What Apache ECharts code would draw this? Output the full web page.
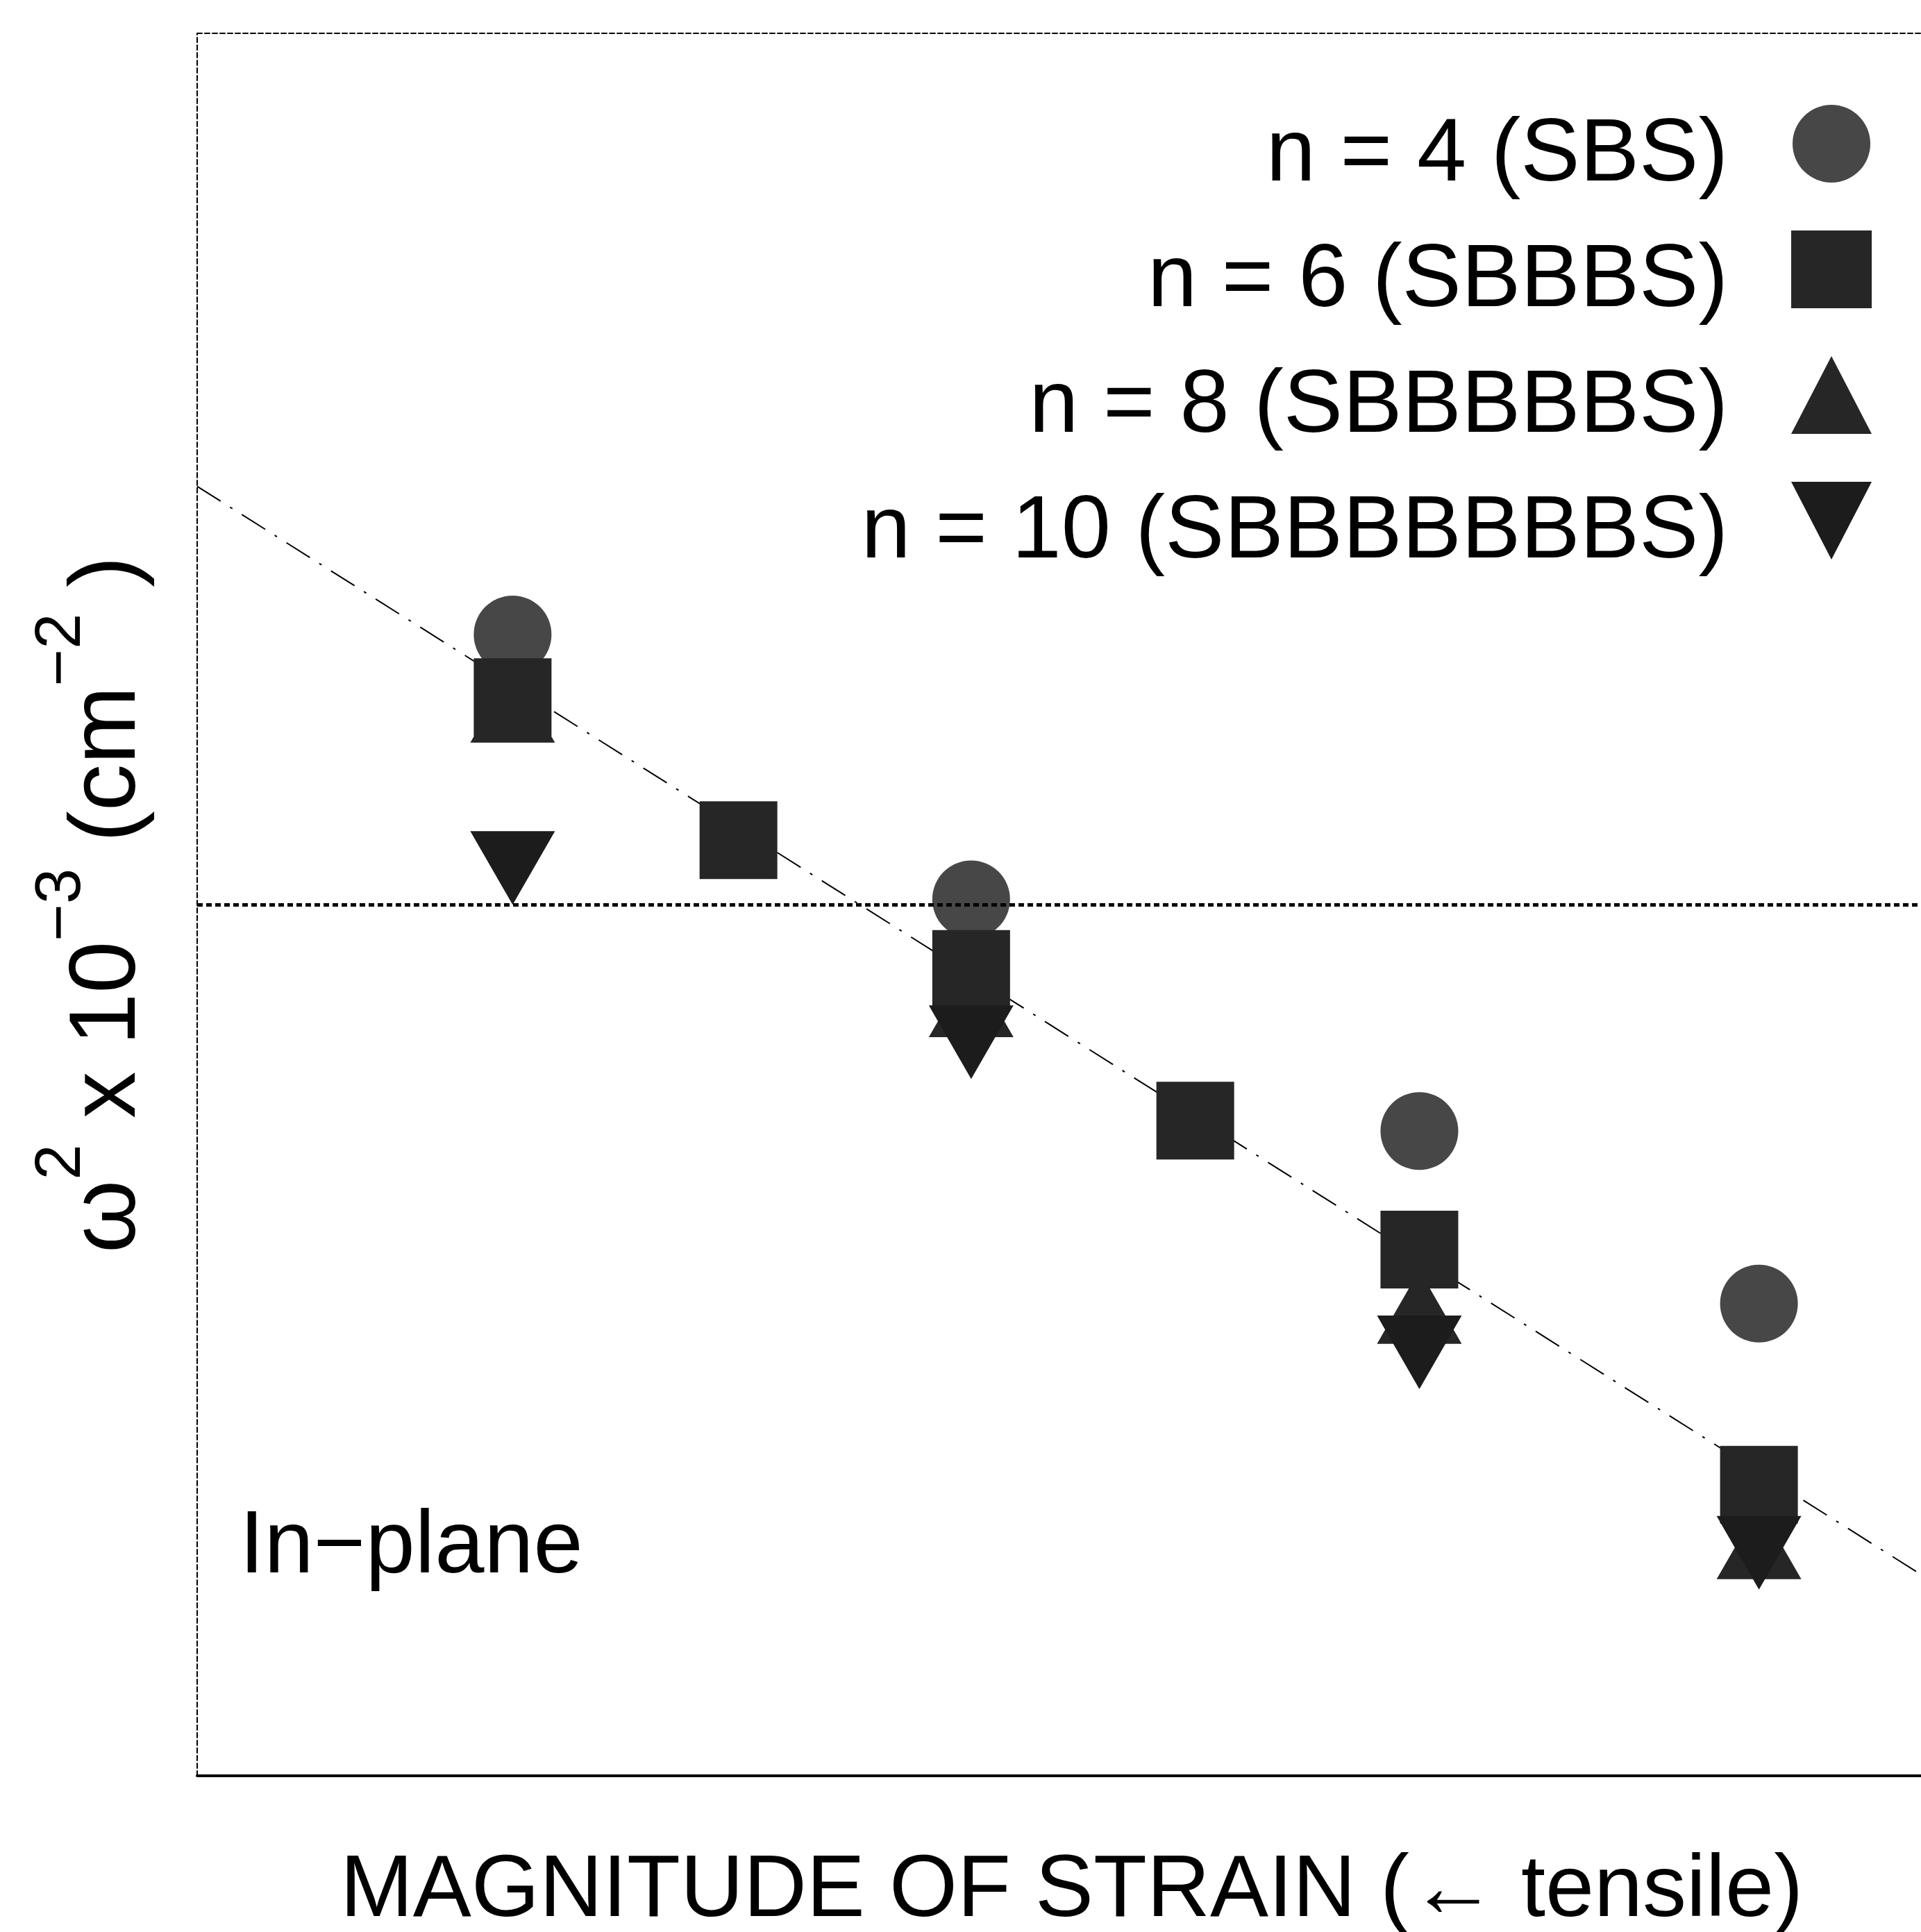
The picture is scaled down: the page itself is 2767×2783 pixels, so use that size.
<!DOCTYPE html>
<html>
<head>
<meta charset="utf-8">
<title>In-plane</title>
<script src="https://cdn.jsdelivr.net/npm/echarts@6/dist/echarts.min.js"></script>
<style>
	html, body { margin: 0; padding: 0; background: #fff; }
	#js-chart { width: 2767px; height: 2783px; }
</style>
</head>
<body>
<div id="js-chart"></div>
<script>
// strain positions (no ticks in the original, arbitrary units 0-100)
var strainX = [18.3, 31.4, 44.9, 57.9, 70.9, 90.6];

var seriesNames = ['n = 4 (SBS)', 'n = 6 (SBBBS)', 'n = 8 (SBBBBBS)', 'n = 10 (SBBBBBBBS)'];

// omega^2 x 10^-3, null where a column has no point
var sbs       = [65.5, null, 50.3, null, 37.0, 27.1];
var sbbbs     = [61.9, 53.7, 46.3, 37.6, 30.2, 16.7];
var sbbbbbs   = [61.4, null, 44.5, null, 26.9, 13.4];
var sbbbbbbbs = [52.1, null, 42.1, null, 24.3, 12.8];

// dash-dot guide line
var fitX = [0, 100];
var fitY = [74.0, 11.55];

// dotted reference level
var refLevel = 50;

var FONT = "'Liberation Sans', Arial, Helvetica, sans-serif";

function pairs(ys){
	var out = [];
	for (var i = 0; i < strainX.length; i++) {
		if (ys[i] != null) out.push([strainX[i], ys[i]]);
	}
	return out;
}

function markers(name, ys, symbol, size, color){
	return {
		name: name,
		type: 'scatter',
		data: pairs(ys),
		symbol: symbol,
		symbolSize: size,
		itemStyle: { color: color, opacity: 1 },
		z: 3
	};
}

var chart = echarts.init(document.getElementById('js-chart'));
var downTri = 'path://M0,0L12,0L6,10Z';

var option = {
	backgroundColor: '#fff',
	animation: false,
	textStyle: { fontFamily: FONT, color: '#000' },
	grid: { left: 284, right: 0, top: 48, bottom: 225, outerBoundsMode: 'none', containLabel: false },
	title: {
		text: 'In\u2212plane',
		left: 340,
		top: 2161,
		textStyle: { fontSize: 128, fontWeight: 'normal', color: '#000', fontFamily: FONT }
	},
	legend: {
		data: seriesNames,
		orient: 'vertical',
		align: 'right',
		right: 66,
		top: 146,
		itemWidth: 116,
		itemHeight: 112,
		itemGap: 43,
		symbolKeepAspect: false,
		selectedMode: false,
		formatter: function(name){ return '{t|' + name + '}'; },
		textStyle: {
			color: '#000', fontFamily: FONT,
			rich: { t: { fontSize: 128, color: '#000', fontFamily: FONT, padding: [36, 86, 0, 0] } }
		}
	},
	xAxis: [
		{
			type: 'value', min: 0, max: 100, position: 'bottom',
			axisLine: { show: true, onZero: false, lineStyle: { color: '#000', width: 4 } },
			axisTick: { show: false }, axisLabel: { show: false }, splitLine: { show: false },
			name: 'MAGNITUDE OF STRAIN (\u2190 tensile)',
			nameLocation: 'middle',
			nameGap: 104,
			nameTextStyle: { fontSize: 126, color: '#000', fontFamily: FONT, padding: [0, 0, 0, 36] }
		},
		{
			type: 'value', min: 0, max: 100, position: 'top',
			axisLine: { show: true, onZero: false, lineStyle: { color: '#000', width: 2, type: [7, 4] } },
			axisTick: { show: false }, axisLabel: { show: false }, splitLine: { show: false }
		}
	],
	yAxis: {
		type: 'value', min: 0, max: 100,
		axisLine: { show: true, onZero: false, lineStyle: { color: '#000', width: 2, type: [7, 4] } },
		axisTick: { show: false }, axisLabel: { show: false }, splitLine: { show: false },
		name: '{b|\u03c9}{s|2}{b| x 10}{s|\u22123}{b| (cm}{s|\u22122}{b| )}',
		nameLocation: 'middle',
		nameRotate: 90,
		nameGap: 14,
		nameTextStyle: {
			color: '#000', fontFamily: FONT,
			rich: {
				b: { fontSize: 135, lineHeight: 226, color: '#000', fontFamily: FONT },
				s: { fontSize: 92, lineHeight: 92, verticalAlign: 'top', color: '#000', fontFamily: FONT }
			}
		}
	},
	series: [
		{
			name: 'fit',
			type: 'line',
			data: [[fitX[0], fitY[0]], [fitX[1], fitY[1]]],
			symbol: 'none',
			silent: true,
			lineStyle: { color: '#000', width: 2, type: [40, 16, 4, 16] },
			z: 1,
			markLine: {
				silent: true,
				symbol: 'none',
				label: { show: false },
				lineStyle: { color: '#000', width: 5, type: [8, 5] },
				data: [{ yAxis: refLevel }]
			}
		},
		markers(seriesNames[0], sbs, 'circle', 112, '#474747'),
		markers(seriesNames[1], sbbbs, 'rect', 112, '#262626'),
		markers(seriesNames[2], sbbbbbs, 'triangle', [122, 106], '#262626'),
		markers(seriesNames[3], sbbbbbbbs, downTri, [122, 106], '#1c1c1c')
	]
};
chart.setOption(option);
</script>
</body>
</html>
